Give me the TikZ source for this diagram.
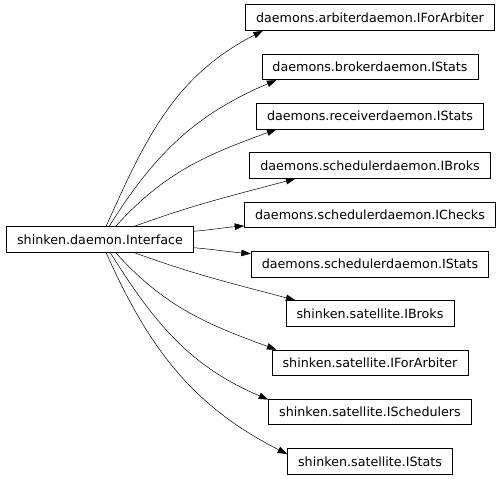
\documentclass[tikz,border=0pt]{standalone}
\usepackage{fontspec}
\setmainfont{DejaVu Sans}
\usetikzlibrary{arrows.meta}
\tikzset{
	box/.style={draw, rectangle, line width=0.7pt, inner xsep=10.6pt, inner ysep=0pt,
		minimum height=25.6pt, font=\fontsize{12.7}{15}\selectfont},
	link/.style n args={4}{edge from parent path={(\tikzparentnode.#1) to[out=#3,in=#4] (\tikzchildnode.#2)}}
}
\begin{document}
\begin{tikzpicture}
		[level 1/.style={level distance=270pt,
			sibling distance=49.3pt},
		every child node/.style={box},
		edge from parent/.style={draw, line width=0.5pt, -{Triangle[length=9.5pt,width=6.5pt]}}
		]
		\useasboundingbox (0,0) rectangle (504pt,479pt);
		\node[box] (iface) at (100pt,239.5pt) {shinken.daemon.Interface} [grow'=right]
		child[link={65}{187}{66}{207}] {node (arbiter) {daemons.arbiterdaemon.IForArbiter}}
		child[link={55}{188}{58}{203}] {node (brokerstats) {daemons.brokerdaemon.IStats}}
		child[link={40}{188}{48}{200}] {node (receiverstats) {daemons.receiverdaemon.IStats}}
		child[link={21}{190}{20}{195}] {node (schedbroks) {daemons.schedulerdaemon.IBroks}}
		child[link={5}{185}{5}{185}] {node (schedchecks) {daemons.schedulerdaemon.IChecks}}
		child[link={355}{175}{-5}{175}] {node (schedstats) {daemons.schedulerdaemon.IStats}}
		child[link={339}{170}{-20}{165}] {node (satbroks) {shinken.satellite.IBroks}}
		child[link={320}{172}{-48}{160}] {node (satarbiter) {shinken.satellite.IForArbiter}}
		child[link={308}{173}{-58}{157}] {node (satsched) {shinken.satellite.ISchedulers}}
		child[link={295}{175}{-66}{153}] {node (satstats) {shinken.satellite.IStats}}
		;
\end{tikzpicture}
\end{document}
